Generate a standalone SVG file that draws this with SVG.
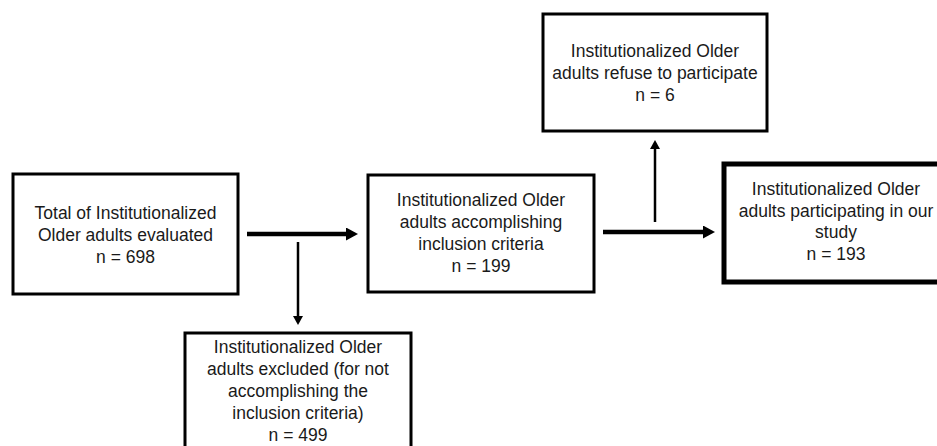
<svg xmlns="http://www.w3.org/2000/svg" width="937" height="446" viewBox="0 0 937 446">
<style>
.box{fill:#fff;stroke:#000;stroke-width:3}
.thick{stroke-width:5}
text{font-family:"Liberation Sans",Arial,sans-serif;font-size:17.5px;fill:#1a1a1a;text-anchor:middle}
.c{stroke:#000;fill:none}
.big{stroke-width:4.5}
.thin{stroke-width:2.5}
</style>
<defs>
<marker id="hb" markerUnits="userSpaceOnUse" markerWidth="12" markerHeight="13" refX="0" refY="6.5" orient="auto"><path d="M0,0 L12,6.5 L0,13 z" fill="#000"/></marker>
<marker id="hs" markerUnits="userSpaceOnUse" markerWidth="9" markerHeight="10" refX="0" refY="5" orient="auto"><path d="M0,0 L9,5 L0,10 z" fill="#000"/></marker>
</defs>
<rect width="937" height="446" fill="#fff"/>
<g id="connectors">
<line class="c big" x1="247" y1="234" x2="346" y2="234" marker-end="url(#hb)"/>
<line class="c thin" x1="298" y1="242" x2="298" y2="316" marker-end="url(#hs)"/>
<line class="c big" x1="603" y1="232" x2="703" y2="232" marker-end="url(#hb)"/>
<line class="c thin" x1="655" y1="222" x2="655" y2="149" marker-end="url(#hs)"/>
</g>
<g id="n1">
<rect class="box" x="13" y="174" width="225" height="120"/>
<text x="125.5" y="219">Total of Institutionalized</text>
<text x="125.5" y="241">Older adults evaluated</text>
<text x="125.5" y="263">n = 698</text>
</g>
<g id="n2">
<rect class="box" x="368" y="175" width="226" height="117"/>
<text x="481" y="206">Institutionalized Older</text>
<text x="481" y="228">adults accomplishing</text>
<text x="481" y="250">inclusion criteria</text>
<text x="481" y="272">n = 199</text>
</g>
<g id="n3">
<rect class="box" x="543" y="14" width="224" height="117"/>
<text x="655" y="57">Institutionalized Older</text>
<text x="655" y="79">adults refuse to participate</text>
<text x="655" y="101">n = 6</text>
</g>
<g id="n4">
<rect class="box thick" x="724" y="164" width="224" height="118"/>
<text x="836" y="195">Institutionalized Older</text>
<text x="836" y="217">adults participating in our</text>
<text x="836" y="238">study</text>
<text x="836" y="260">n = 193</text>
</g>
<g id="n5">
<rect class="box" x="185" y="333" width="226" height="125"/>
<text x="298" y="353">Institutionalized Older</text>
<text x="298" y="375">adults excluded (for not</text>
<text x="298" y="397">accomplishing the</text>
<text x="298" y="419">inclusion criteria)</text>
<text x="298" y="441">n = 499</text>
</g>
</svg>
